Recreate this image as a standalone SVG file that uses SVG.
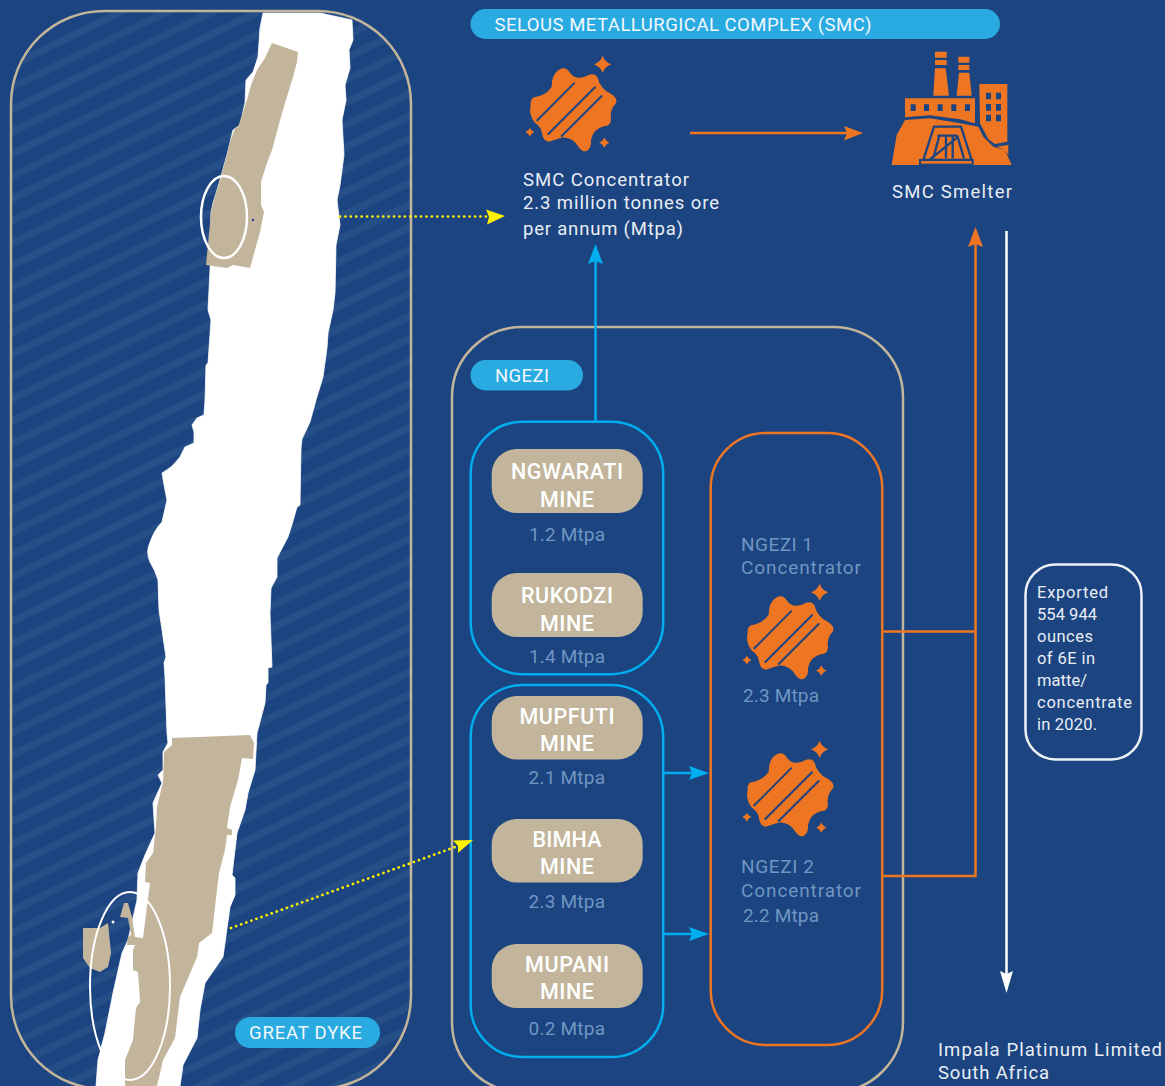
<svg xmlns="http://www.w3.org/2000/svg" width="1165" height="1086" viewBox="0 0 1165 1086">
<style>
text{font-family:Roboto,"Liberation Sans",sans-serif;font-size:18.5px;fill:#e9eef5}
.pilltext{fill:#f2f7fb;font-size:18.5px}
.mine{fill:#fff;font-size:21.5px;font-weight:500;text-anchor:middle}
.mtpa{fill:#7096c2;font-size:19px}
.note{font-size:16.5px}
.panel{fill:none;stroke:#c2b59b;stroke-width:2.5}
.blue{fill:none;stroke:#00aeef;stroke-width:2.5}
.orange{fill:none;stroke:#ee7623;stroke-width:2.5}
.pill{fill:#29abe2}
.tan{fill:#c2b59b}
.ico{fill:#ee7623}
.cut{fill:none;stroke:#1b4480;stroke-width:6;stroke-linecap:round}
.gate{fill:none;stroke:#1b4480;stroke-width:7}
.dots{fill:none;stroke:#fff200;stroke-width:2.7;stroke-linecap:round;stroke-dasharray:0.1 5.3}
</style>
<defs>
<pattern id="stripes" width="20" height="20" patternUnits="userSpaceOnUse" patternTransform="rotate(-26)">
<rect width="20" height="7.5" fill="#264f87"/>
</pattern>
<g id="gem" transform="scale(0.3333)">
<path class="ico" d="M143 92Q165 75 180 98Q195 120 225 110Q252 95 262 112Q272 148 300 160Q325 175 318 190Q298 210 303 240Q300 258 285 258Q250 265 243 300Q245 325 230 333Q218 338 205 320Q190 295 160 292Q130 300 118 305Q100 305 96 280Q95 262 75 248Q55 225 62 195Q60 178 72 172Q110 165 125 140Q125 105 143 92Z"/>
<path class="cut" d="M82 241L192 130M115 282L255 142M155 288L275 168"/>
<path class="ico" d="M278 47Q284 66 304 73Q284 80 278 99Q271 80 252 73Q271 66 278 47ZM60 263Q63 273 73 276Q63 280 60 290Q56 280 46 276Q56 273 60 263ZM283 292Q287 304 299 308Q287 312 283 324Q279 312 267 308Q279 304 283 292Z"/>
</g>
</defs>
<rect width="1165" height="1086" fill="#1b4480"/>

<g id="great-dyke">
<rect x="11" y="11" width="400" height="1078" rx="93" fill="url(#stripes)"/>
<path fill="#fff" stroke="#fff" stroke-width="0.8" stroke-linejoin="round" d="M263 13L320 13L352 20L353 40L349 50L350 68L345 85L346 100L342 120L344 155L340 185L337 200L340 225L336 245L335 293L333 310L328 333L327 348L323 377L316 400L310 422L302 439L301 448L300 505L297 507Q293 522 288 537L277 558L277 577L271 588L270 613L272 667L268 668L268 683L266 685L265 703L257 733L255 770L248 793L245 810L237 833L232 875L235 878L235 895L230 907L223 957L205 983L200 1010L197 1038L183 1065L180 1086L96 1086L98 1060L105 1033L113 993L122 953L128 940L137 900L138 873L145 855L155 833L153 803L162 783L158 775L163 770L163 752L168 743L167 733L165 677L164 663L166 657L162 630L159 610L158 580Q155 570 150 562Q146 553 149 545Q154 530 162 522L167 500L165 490L162 473Q172 468 180 457L185 447L194 443L194 432L192 425L197 418L204 415L205 400L206 365L208 363L211 320L208 310L210 270L211 213L213 203L218 187L227 155L233 130L240 125L245 103L246 80L253 72L258 57L260 28Z"/>
<path class="tan" d="M272 43L298 52L297 62L293 77L282 113L272 150L267 163L261 182L261 205L264 212L260 232L250 268L233 265L227 268L206 265L211 213L213 203L218 187L227 155L229 145L235 128L238 127L247 100L251 85L257 70L265 58Z"/>
<path class="tan" d="M172 738L250 735L254 743L253 759L242 758L238 780L230 807L227 828L232 830L232 835L227 835L225 850L219 873L215 907L212 933L199 943L197 957L180 997L175 1038L163 1060L157 1086L125 1086L125 1060L133 1040L136 1008L140 1002L138 972L133 970L133 950L135 945L127 945L128 937L131 935L128 918L120 917L124 903L128 903L132 917L135 937L143 938L150 883L145 882L146 863L153 853L156 827L157 807L163 782L164 752L172 745Z"/>
<path class="tan" d="M83 928L100 928L108 923L111 953L108 967L100 972L90 968L83 958Z"/>
<circle cx="113" cy="922" r="1.5" fill="#fff"/>
<circle cx="253" cy="220" r="1.2" fill="#2a3f86"/>
<ellipse cx="224" cy="217" rx="23" ry="41" fill="none" stroke="#fff" stroke-width="2.5"/>
<ellipse cx="130" cy="986" rx="40" ry="94" fill="none" stroke="#fff" stroke-width="2"/>
<rect class="panel" x="11" y="11" width="400" height="1078" rx="93"/>
<rect class="pill" x="235" y="1017" width="145" height="31" rx="15.5"/>
<text class="pilltext" x="249" y="1039" textLength="113">GREAT DYKE</text>
</g>

<g id="smc">
<rect class="pill" x="470.5" y="9" width="529.5" height="30" rx="15"/>
<text class="pilltext" x="494.5" y="31" textLength="377">SELOUS METALLURGICAL COMPLEX (SMC)</text>
</g>

<g id="smc-concentrator">
<use href="#gem" x="510" y="40"/>
<text x="523" y="186" textLength="166">SMC Concentrator</text>
<text x="523" y="209" textLength="196">2.3 million tonnes ore</text>
<text x="523" y="235" textLength="160">per annum (Mtpa)</text>
</g>

<g id="smc-smelter">
<g transform="translate(880 40) scale(0.3333)">
<path class="ico" d="M165 35H200V53H165ZM165 60H200V75H165ZM165 85H197L207 167H160ZM235 50H268V68H235ZM235 75H268V90H235ZM237 98H268L275 167H230ZM75 175H285V250L240 238L150 226L75 232ZM298 132H382V305L345 312L325 298L300 250ZM75 240L150 235L240 250L295 260L310 290L340 320L375 330L395 375H35L50 285ZM350 320L385 315V345L375 330Z"/>
<path fill="#1b4480" d="M92 193H107V213H92ZM132 193H147V213H132ZM173 193H188V213H173ZM214 193H229V213H214ZM255 193H270V213H255ZM318 158H333V178H318ZM348 158H363V178H348ZM318 192H333V212H318ZM348 192H363V212H348ZM318 224H333V244H318ZM348 224H363V244H348Z"/>
<path class="gate" d="M162 260H243L275 360H130ZM172 287H232M178 287L160 355M198 287V355M218 287V355M232 287L252 355M150 358L232 292"/>
<rect x="120" y="360" width="158" height="14" fill="#ee7623" stroke="#1b4480" stroke-width="6"/>
</g>
<text x="892" y="198" textLength="120">SMC Smelter</text>
</g>

<g id="ngezi">
<rect class="panel" x="452" y="327" width="451" height="765" rx="70"/>
<rect class="pill" x="470.5" y="360" width="112.5" height="30.500" rx="15"/>
<text class="pilltext" x="495" y="382" textLength="54">NGEZI</text>
</g>

<g id="mines-north">
<rect class="blue" x="470.700" y="421.700" width="192.500" height="252.500" rx="52"/>
</g>
<g id="mines-south">
<rect class="blue" x="470.700" y="685" width="192.500" height="372" rx="52"/>
</g>

<g id="ngwarati-mine">
<rect class="tan" x="491.700" y="449" width="151" height="64" rx="25"/>
<text class="mine" x="567" y="479" textLength="112">NGWARATI</text>
<text class="mine" x="567" y="507" textLength="54">MINE</text>
<text class="mtpa" x="529" y="541" textLength="76">1.2 Mtpa</text>
</g>
<g id="rukodzi-mine">
<rect class="tan" x="491.700" y="573" width="151" height="64" rx="25"/>
<text class="mine" x="567" y="603" textLength="92">RUKODZI</text>
<text class="mine" x="567" y="631" textLength="54">MINE</text>
<text class="mtpa" x="529" y="663" textLength="76">1.4 Mtpa</text>
</g>
<g id="mupfuti-mine">
<rect class="tan" x="491.700" y="696" width="151" height="63.500" rx="25"/>
<text class="mine" x="567" y="724" textLength="95">MUPFUTI</text>
<text class="mine" x="567" y="751" textLength="54">MINE</text>
<text class="mtpa" x="528.500" y="784" textLength="76.500">2.1 Mtpa</text>
</g>
<g id="bimha-mine">
<rect class="tan" x="491.700" y="819" width="151" height="63.500" rx="25"/>
<text class="mine" x="567" y="847" textLength="69">BIMHA</text>
<text class="mine" x="567" y="874" textLength="54">MINE</text>
<text class="mtpa" x="528.500" y="908" textLength="76.500">2.3 Mtpa</text>
</g>
<g id="mupani-mine">
<rect class="tan" x="491.700" y="944" width="151" height="64" rx="25"/>
<text class="mine" x="567" y="972" textLength="84">MUPANI</text>
<text class="mine" x="567" y="999" textLength="54">MINE</text>
<text class="mtpa" x="528.500" y="1035" textLength="76.500">0.2 Mtpa</text>
</g>

<g id="ngezi-concentrators">
<rect class="orange" x="710.700" y="433" width="171.500" height="612" rx="55"/>
<text class="mtpa" x="741" y="551" textLength="72">NGEZI 1</text>
<text class="mtpa" x="741" y="574" textLength="120">Concentrator</text>
<use href="#gem" x="727" y="568"/>
<text class="mtpa" x="743" y="702" textLength="76">2.3 Mtpa</text>
<use href="#gem" x="727" y="725"/>
<text class="mtpa" x="741" y="873" textLength="73">NGEZI 2</text>
<text class="mtpa" x="741" y="897" textLength="120">Concentrator</text>
<text class="mtpa" x="743" y="922" textLength="76">2.2 Mtpa</text>
</g>

<g id="export-note">
<rect x="1025.500" y="564.500" width="116" height="195" rx="30" fill="none" stroke="#eef2f7" stroke-width="2.5"/>
<text class="note" x="1037" y="598" textLength="71">Exported</text>
<text class="note" x="1037" y="620" textLength="60">554 944</text>
<text class="note" x="1037" y="642" textLength="56">ounces</text>
<text class="note" x="1037" y="664" textLength="58">of 6E in</text>
<text class="note" x="1037" y="686" textLength="50">matte/</text>
<text class="note" x="1037" y="708" textLength="95">concentrate</text>
<text class="note" x="1037" y="730" textLength="60">in 2020.</text>
</g>

<g id="impala">
<text x="938" y="1056" textLength="224">Impala Platinum Limited</text>
<text x="938" y="1079" textLength="111">South Africa</text>
</g>

<g id="connectors">
<path class="dots" d="M340 216.500L488 216.500"/>
<path fill="#fff200" d="M505 216L486 209.500L489 217L487 224.500Z"/>
<path class="dots" d="M231 928L458 846"/>
<path fill="#fff200" d="M473 840L453 840.500L458 846L458 853Z"/>
<path class="orange" d="M690 133H848"/>
<path class="ico" d="M863 133L844 126L847 133L844 140.500Z"/>
<path class="orange" d="M882 631.500H975M882 876H975.500V242"/>
<path class="ico" d="M975.500 227L968 247L975.500 244L983 247Z"/>
<path class="blue" d="M595.500 421V258"/>
<path fill="#00aeef" d="M595.500 244L588 264L595.500 261L603 264Z"/>
<path class="blue" d="M663 773H695M663 934H695"/>
<path fill="#00aeef" d="M709 773L689 766L692 773L689 780ZM709 934L689 927L692 934L689 941Z"/>
<path fill="none" stroke="#fff" stroke-width="2.5" d="M1006.500 231V980"/>
<path fill="#fff" d="M1006.500 993L1000 971L1006.500 974L1013 971Z"/>
</g>
</svg>
